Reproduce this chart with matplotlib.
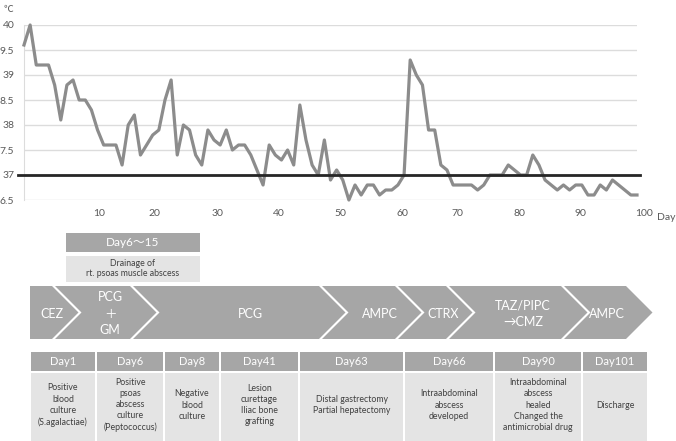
import numpy as np
import matplotlib.pyplot as plt
from matplotlib.patches import Polygon, Rectangle

plt.rcParams['font.family'] = ['Lato', 'Noto Sans CJK JP', 'DejaVu Sans']

# body temperature, one reading per day
temps = [39.6, 40.0, 39.2, 39.2, 39.2, 38.8, 38.1, 38.8, 38.9, 38.5,
         38.5, 38.3, 37.9, 37.6, 37.6, 37.6, 37.2, 38.0, 38.2, 37.4,
         37.6, 37.8, 37.9, 38.5, 38.9, 37.4, 38.0, 37.9, 37.4, 37.2,
         37.9, 37.7, 37.6, 37.9, 37.5, 37.6, 37.6, 37.4, 37.1, 36.8,
         37.6, 37.4, 37.3, 37.5, 37.2, 38.4, 37.7, 37.2, 37.0, 37.7,
         36.9, 37.1, 36.9, 36.5, 36.8, 36.6, 36.8, 36.8, 36.6, 36.7,
         36.7, 36.8, 37.0, 39.3, 39.0, 38.8, 37.9, 37.9, 37.2, 37.1,
         36.8, 36.8, 36.8, 36.8, 36.7, 36.8, 37.0, 37.0, 37.0, 37.2,
         37.1, 37.0, 37.0, 37.4, 37.2, 36.9, 36.8, 36.7, 36.8, 36.7,
         36.8, 36.8, 36.6, 36.6, 36.8, 36.7, 36.9, 36.8, 36.7, 36.6,
         36.6]
days = np.arange(len(temps))
normal_temp = 37

ytick_vals = [40, 39.5, 39, 38.5, 38, 37.5, 37, 36.5]
ytick_text = ['40', '9.5', '39', '8.5', '38', '7.5', '37', '6.5']
xtick_text = ['10', '20', '30', '40', '50', '60', '70', '80', '90', '100']
xtick_pos = [12.3, 21.3, 31.5, 41.6, 51.6, 61.7, 70.7, 80.8, 90.8, 101.1]

drugs = ['CEZ', 'PCG\n＋\nGM', 'PCG', 'AMPC', 'CTRX', 'TAZ/PIPC\n→CMZ', 'AMPC']

drain_title = 'Day6〜15'
drain_text = 'Drainage of\nrt. psoas muscle abscess'

event_days = ['Day1', 'Day6', 'Day8', 'Day41', 'Day63', 'Day66', 'Day90', 'Day101']
event_text = ['Positive\nblood\nculture\n(S.agalactiae)',
              'Positive\npsoas\nabscess\nculture\n(Peptococcus)',
              'Negative\nblood\nculture',
              'Lesion\ncurettage\nIliac bone\ngrafting',
              'Distal gastrectomy\nPartial hepatectomy',
              'Intraabdominal\nabscess\ndeveloped',
              'Intraabdominal\nabscess\nhealed\nChanged the\nantimicrobial drug',
              'Discharge']

dark = '#a6a6a6'
light = '#e4e4e4'
txt = '#595959'

W, H = 676, 441
fig = plt.figure(figsize=(W / 100, H / 100), dpi=100)

# temperature chart
ax = fig.add_axes([24 / W, 1 - 200 / H, 613 / W, 175 / H])
ax.plot(days, temps, color='#8c8c8c', lw=2.3, clip_on=False, zorder=3)
ax.axhline(normal_temp, color='#262626', lw=2.0, zorder=4, xmin=-0.01, xmax=1.005, clip_on=False)
ax.set_xlim(0, 100)
ax.set_ylim(36.5, 40)
ax.set_yticks(ytick_vals)
ax.set_yticklabels(ytick_text)
ax.tick_params(axis='y', length=0, pad=7, labelsize=7.5, labelcolor=txt)
ax.set_xticks([])
ax.grid(axis='y', color='#dcdcdc', lw=1)
for s in ['top', 'right', 'bottom']:
    ax.spines[s].set_visible(False)
ax.spines['left'].set_color('#dcdcdc')
for lbl, pos in zip(xtick_text, xtick_pos):
    ax.annotate(lbl, (pos, 0), xycoords=('data', 'axes fraction'),
                xytext=(0, -13), textcoords='offset pixels',
                ha='center', va='center', fontsize=7.5, color=txt,
                annotation_clip=False)

# overlay in pixel coordinates for the timeline parts
ov = fig.add_axes([0, 0, 1, 1])
ov.set_xlim(0, W)
ov.set_ylim(H, 0)
ov.axis('off')

ov.text(8, 10, '℃', ha='center', va='center', fontsize=7, color=txt)
ov.text(666, 217, 'Day', ha='center', va='center', fontsize=7.5, color=txt)

# drainage box
ov.add_patch(Rectangle((66, 233), 134, 19, color=dark, lw=0))
ov.text(133, 243, drain_title, ha='center', va='center', fontsize=8.5, color='white')
ov.add_patch(Rectangle((66, 256), 134, 26, color=light, lw=0))
ov.text(133, 268.5, drain_text, ha='center', va='center', fontsize=6.3, color='#404040',
        linespacing=1.25)

# antibiotic chevrons
right_edges = [52, 130, 319, 395, 446, 561, 626]
label_x = [52, 110, 250, 380, 443, 523, 607]
top, bot = 286, 339
mid = (top + bot) / 2
depth = mid - top
left = 30
for i, (name, r) in enumerate(zip(drugs, right_edges)):
    pts = [(left, top), (r, top), (r + depth, mid), (r, bot), (left, bot)]
    if i > 0:
        pts.append((left + depth, mid))
    ov.add_patch(Polygon(pts, closed=True, color=dark, lw=0))
    ov.text(label_x[i], mid + 1, name, ha='center', va='center', fontsize=9,
            color='white', linespacing=1.45)
    left = r + 3

# events table
col_edges = [30, 96, 164, 220, 299, 404, 494, 582, 648]
for i, (d, t) in enumerate(zip(event_days, event_text)):
    x0, x1 = col_edges[i] + 1, col_edges[i + 1] - 1
    ov.add_patch(Rectangle((x0, 352), x1 - x0, 19, color=dark, lw=0))
    ov.add_patch(Rectangle((x0, 373), x1 - x0, 70, color=light, lw=0))
    ov.text((x0 + x1) / 2, 361.5, d, ha='center', va='center', fontsize=8, color='white')
    ov.text((x0 + x1) / 2, 405, t, ha='center', va='center', fontsize=6.3,
            color='#404040', linespacing=1.3)

fig.savefig('out.png', dpi=100)
